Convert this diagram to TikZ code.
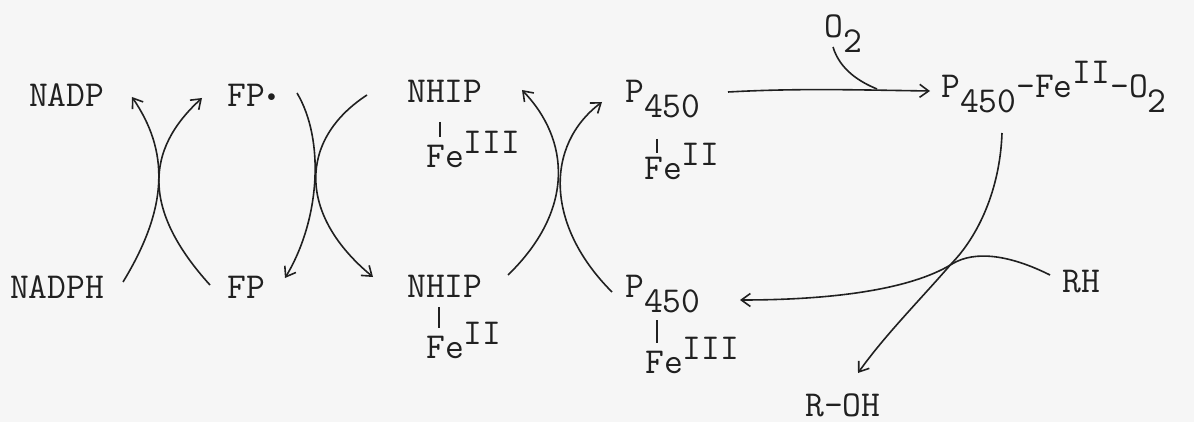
\documentclass[tikz,border=0pt]{standalone}
\usetikzlibrary{arrows.meta}
\definecolor{ink}{RGB}{32,32,32}
\definecolor{paper}{RGB}{246,246,246}
\newcommand\subtx[1]{\raisebox{-15pt}{#1}}
\newcommand\suptx[1]{\raisebox{14pt}{#1}}
\newcommand\radot{\raisebox{3pt}{\fontsize{26}{26}\selectfont\textbullet}}
\begin{document}
\begin{tikzpicture}[x=1pt,y=-1pt,
  lbl/.style={anchor=base west, inner sep=0pt, font=\ttfamily\fontsize{36.5}{40}\selectfont, text=ink},
  rx/.style={draw=ink, line width=1.6pt, -{Straight Barb[length=9pt,width=13pt]}},
  plain/.style={draw=ink, line width=1.6pt},
  bond/.style={draw=ink, line width=1.4pt}]
\fill[paper] (0,0) rectangle (1194,422);
\useasboundingbox (0,0) rectangle (1194,422);

% labels
\node[lbl] (nadp)  at (29,107)  {NADP};
\node[lbl] (nadph) at (10,298)  {NADPH};
\node[lbl] (fpr)   at (227,107) {FP\radot};
\node[lbl] (fp)    at (227,298) {FP};
\node[lbl] (nhipA) at (407,103) {NHIP};
\node[lbl] (feA)   at (426,168) {Fe\suptx{III}};
\node[lbl] (nhipB) at (407,297) {NHIP};
\node[lbl] (feB)   at (426,358) {Fe\suptx{II}};
\node[lbl] (pA)    at (625,103) {P\subtx{450}};
\node[lbl] (pfeA)  at (644,180) {Fe\suptx{II}};
\node[lbl] (pB)    at (625,297) {P\subtx{450}};
\node[lbl] (pfeB)  at (645,373) {Fe\suptx{III}};
\node[lbl] (po)    at (941,98)  {P\subtx{450}-Fe\suptx{II}-O\subtx{2}};
\node[lbl] (otwo)  at (824,38)  {O\subtx{2}};
\node[lbl] (rh)    at (1062,292) {RH};
\node[lbl] (roh)   at (805,416) {R-OH};

% bonds
\draw[bond] (440,122) -- (440,137);
\draw[bond] (439,307) -- (439,328);
\draw[bond] (657,139) -- (657,153);
\draw[bond] (657,320) -- (657,343);

% NADPH / NADP cross
\draw[rx] (123,282) .. controls (170,205) and (168,150) .. (132,97);
\draw[rx] (210,285) .. controls (142,210) and (145,150) .. (202,98);
% FP cross
\draw[rx] (297,93) .. controls (325,140) and (320,220) .. (285,278);
\draw[rx] (367,95) .. controls (298,140) and (298,215) .. (373,277);
% NHIP / P450 cross
\draw[rx] (508,275) .. controls (575,210) and (570,140) .. (522,90);
\draw[rx] (612,292) .. controls (545,225) and (545,145) .. (602,102);

% O2 binding
\draw[rx] (728,92) .. controls (800,88) and (860,90) .. (930,91);
\draw[plain] (833,47) .. controls (840,70) and (860,82) .. (877,89);

% hydroxylation
\draw[rx] (1002,133) .. controls (1000,190) and (978,236) .. (952,263)
   .. controls (920,300) and (885,335) .. (858,373);
\draw[rx] (1050,275) .. controls (1010,255) and (975,250) .. (952,264)
   .. controls (910,290) and (830,300) .. (740,300);
\end{tikzpicture}
\end{document}
